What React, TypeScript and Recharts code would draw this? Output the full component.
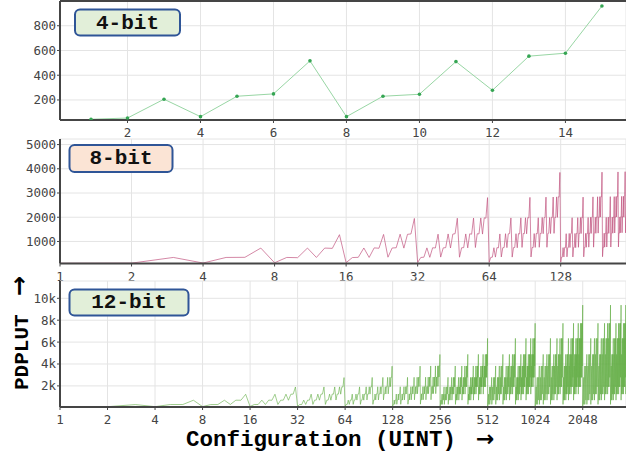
import { LineChart, Line, XAxis, YAxis, CartesianGrid, ReferenceLine } from "recharts";

const W = 626;
const AXIS = "#454545";
const GRID = "#e4e4e4";
const MONO = "'Liberation Mono', 'Courier New', monospace";
const TICK = { fontSize: 12.5, fill: "#444", fontFamily: "'DejaVu Sans Mono', monospace" };
const PAD = 8; // room above each plot for its top tick label

// 4-bit: configurations 1..15
const configs4 = [1, 2, 3, 4, 5, 6, 7, 8, 9, 10, 11, 12, 13, 14, 15];
const pdp4 = [44, 54, 206, 65, 230, 249, 516, 65, 230, 246, 510, 278, 554, 578, 959];

// 8-bit: configurations 1..255, one row per 16
const pdp8 = [
  100, 105, 340, 110, 340, 345, 727, 120, 340, 330, 727, 340, 727, 715, 1280,
  125, 335, 345, 730, 340, 735, 720, 1290, 350, 730, 740, 1300, 725, 1295, 1310, 1950,
  130, 340, 350, 735, 345, 740, 730, 1300, 355, 735, 745, 1310, 730, 1305, 1320, 1960,
  350, 740, 745, 1310, 735, 1315, 1300, 1965, 750, 1320, 1310, 1970, 1305, 1975, 1960, 2810,
  140, 345, 350, 740, 355, 745, 735, 1310, 360, 740, 750, 1320, 745, 1315, 1325, 1970,
  355, 745, 750, 1320, 740, 1325, 1310, 1975, 755, 1330, 1320, 1980, 1315, 1985, 1970, 2820,
  360, 750, 745, 1325, 755, 1330, 1320, 1980, 760, 1335, 1325, 1990, 1320, 1985, 1995, 2830,
  760, 1330, 1340, 1990, 1325, 1995, 1985, 2835, 1335, 2000, 1990, 2840, 1995, 2845, 2830, 3850,
  150, 350, 355, 745, 360, 750, 740, 1320, 365, 745, 755, 1330, 750, 1325, 1335, 1980,
  360, 750, 755, 1330, 745, 1335, 1320, 1985, 760, 1340, 1330, 1990, 1325, 1995, 1980, 2830,
  365, 755, 750, 1335, 760, 1340, 1330, 1990, 765, 1345, 1335, 2000, 1330, 1995, 2005, 2840,
  765, 1340, 1350, 2000, 1335, 2005, 1995, 2845, 1345, 2010, 2000, 2850, 2005, 2855, 2840, 3860,
  370, 760, 755, 1340, 765, 1345, 1335, 1995, 770, 1350, 1340, 2005, 1335, 2000, 2010, 2850,
  770, 1345, 1355, 2005, 1340, 2010, 2000, 2850, 1350, 2015, 2005, 2855, 2010, 2860, 2845, 3870,
  775, 1350, 1345, 2010, 1355, 2015, 2005, 2860, 1360, 2020, 2010, 2865, 2005, 2860, 2870, 3880,
  1355, 2020, 2030, 2870, 2015, 2875, 2865, 3885, 2025, 2880, 2870, 3890, 2875, 3895, 3880, 5000,
];

// 12-bit: every configuration 1..255
const pdp12Low = [
  95, 100, 295, 105, 300, 300, 690, 110, 295, 300, 690, 305, 695, 690, 1235,
  115, 300, 305, 695, 300, 700, 690, 1240, 305, 695, 700, 1245, 690, 1240, 1250, 1900,
  120, 305, 300, 700, 305, 695, 700, 1245, 310, 700, 705, 1250, 695, 1245, 1255, 1905,
  310, 700, 705, 1250, 695, 1255, 1245, 1905, 710, 1255, 1250, 1910, 1245, 1915, 1905, 2760,
  125, 305, 310, 700, 310, 705, 700, 1250, 315, 700, 710, 1255, 705, 1250, 1260, 1910,
  315, 705, 710, 1255, 700, 1260, 1250, 1915, 715, 1260, 1255, 1920, 1250, 1920, 1910, 2770,
  315, 710, 705, 1260, 715, 1265, 1255, 1920, 715, 1265, 1260, 1925, 1255, 1920, 1930, 2775,
  720, 1265, 1270, 1925, 1260, 1930, 1920, 2780, 1270, 1935, 1925, 2785, 1930, 2790, 2780, 3800,
  130, 310, 315, 705, 320, 710, 700, 1255, 320, 705, 715, 1260, 710, 1255, 1265, 1920,
  320, 710, 715, 1265, 705, 1270, 1255, 1925, 720, 1270, 1265, 1930, 1260, 1935, 1920, 2780,
  325, 715, 710, 1270, 720, 1275, 1265, 1930, 725, 1275, 1270, 1935, 1265, 1930, 1940, 2785,
  725, 1275, 1280, 1935, 1270, 1940, 1930, 2790, 1280, 1945, 1935, 2795, 1940, 2800, 2790, 3810,
  330, 720, 715, 1275, 725, 1280, 1270, 1935, 730, 1280, 1275, 1940, 1270, 1940, 1945, 2795,
  730, 1280, 1285, 1940, 1275, 1945, 1935, 2800, 1285, 1950, 1940, 2805, 1945, 2810, 2795, 3820,
  735, 1285, 1280, 1945, 1290, 1950, 1940, 2805, 1290, 1955, 1945, 2810, 1940, 2805, 2815, 3825,
  1290, 1955, 1960, 2815, 1950, 2820, 2810, 3830, 1960, 2825, 2815, 3835, 2820, 3840, 3830, 4870,
];

// 12-bit, higher octaves: 128 configurations each (see octaveConfigs)
const pdp12Oct256 = [
  120, 700, 310, 1250, 310, 1250, 700, 1910, 310, 1250, 700, 1910, 700, 1910, 1250, 2780,
  310, 1250, 700, 1910, 700, 1910, 1250, 2780, 700, 1910, 1250, 2780, 1250, 2780, 1910, 3820,
  310, 1250, 700, 1910, 700, 1910, 1250, 2780, 700, 1910, 1250, 2780, 1250, 2780, 1910, 3820,
  700, 1910, 1250, 2780, 1250, 2780, 1910, 3820, 1250, 2780, 1910, 3820, 1910, 3820, 2780, 4880,
  310, 1250, 700, 1910, 700, 1910, 1250, 2780, 700, 1910, 1250, 2780, 1250, 2780, 1910, 3820,
  700, 1910, 1250, 2780, 1250, 2780, 1910, 3820, 1250, 2780, 1910, 3820, 1910, 3820, 2780, 4880,
  700, 1910, 1250, 2780, 1250, 2780, 1910, 3820, 1250, 2780, 1910, 3820, 1910, 3820, 2780, 4880,
  1250, 2780, 1910, 3820, 1910, 3820, 2780, 4880, 1910, 3820, 2780, 4880, 2780, 4880, 3820, 6340,
];
const pdp12Oct512 = [
  120, 1250, 310, 1910, 310, 1910, 700, 2780, 310, 1910, 700, 2780, 700, 2780, 1250, 3820,
  310, 1910, 700, 2780, 700, 2780, 1250, 3820, 700, 2780, 1250, 3820, 1250, 3820, 1910, 4880,
  310, 1910, 700, 2780, 700, 2780, 1250, 3820, 700, 2780, 1250, 3820, 1250, 3820, 1910, 4880,
  700, 2780, 1250, 3820, 1250, 3820, 1910, 4880, 1250, 3820, 1910, 4880, 1910, 4880, 2780, 6340,
  310, 1910, 700, 2780, 700, 2780, 1250, 3820, 700, 2780, 1250, 3820, 1250, 3820, 1910, 4880,
  700, 2780, 1250, 3820, 1250, 3820, 1910, 4880, 1250, 3820, 1910, 4880, 1910, 4880, 2780, 6340,
  700, 2780, 1250, 3820, 1250, 3820, 1910, 4880, 1250, 3820, 1910, 4880, 1910, 4880, 2780, 6340,
  1250, 3820, 1910, 4880, 1910, 4880, 2780, 6340, 1910, 4880, 2780, 6340, 2780, 6340, 3820, 7720,
];
const pdp12Oct1024 = [
  120, 1910, 310, 2780, 310, 2780, 700, 3820, 310, 2780, 700, 3820, 700, 3820, 1250, 4880,
  310, 2780, 700, 3820, 700, 3820, 1250, 4880, 700, 3820, 1250, 4880, 1250, 4880, 1910, 6340,
  310, 2780, 700, 3820, 700, 3820, 1250, 4880, 700, 3820, 1250, 4880, 1250, 4880, 1910, 6340,
  700, 3820, 1250, 4880, 1250, 4880, 1910, 6340, 1250, 4880, 1910, 6340, 1910, 6340, 2780, 7720,
  310, 2780, 700, 3820, 700, 3820, 1250, 4880, 700, 3820, 1250, 4880, 1250, 4880, 1910, 6340,
  700, 3820, 1250, 4880, 1250, 4880, 1910, 6340, 1250, 4880, 1910, 6340, 1910, 6340, 2780, 7720,
  700, 3820, 1250, 4880, 1250, 4880, 1910, 6340, 1250, 4880, 1910, 6340, 1910, 6340, 2780, 7720,
  1250, 4880, 1910, 6340, 1910, 6340, 2780, 7720, 1910, 6340, 2780, 7720, 2780, 7720, 3820, 9380,
];
const pdp12Oct2048 = [
  120, 2780, 310, 3820, 310, 3820, 700, 4880, 310, 3820, 700, 4880, 700, 4880, 1250, 6340,
  310, 3820, 700, 4880, 700, 4880, 1250, 6340, 700, 4880, 1250, 6340, 1250, 6340, 1910, 7720,
  310, 3820, 700, 4880, 700, 4880, 1250, 6340, 700, 4880, 1250, 6340, 1250, 6340, 1910, 7720,
  700, 4880, 1250, 6340, 1250, 6340, 1910, 7720, 1250, 6340, 1910, 7720, 1910, 7720, 2780, 9380,
  310, 3820, 700, 4880, 700, 4880, 1250, 6340, 700, 4880, 1250, 6340, 1250, 6340, 1910, 7720,
  700, 4880, 1250, 6340, 1250, 6340, 1910, 7720, 1250, 6340, 1910, 7720, 1910, 7720, 2780, 9380,
  700, 4880, 1250, 6340, 1250, 6340, 1910, 7720, 1250, 6340, 1910, 7720, 1910, 7720, 2780, 9380,
  1250, 6340, 1910, 7720, 1910, 7720, 2780, 9380, 1910, 7720, 2780, 9380, 2780, 9380, 3820, 11000,
];

const xTicks4 = [2, 4, 6, 8, 10, 12, 14];
const yTicks4 = [200, 400, 600, 800];
const xTicks8 = [1, 2, 4, 8, 16, 32, 64, 128];
const yTicks8 = [1000, 2000, 3000, 4000, 5000];
const xTicks12 = [1, 2, 4, 8, 16, 32, 64, 128, 256, 512, 1024, 2048];
const yTicks12 = [2000, 4000, 6000, 8000, 10000];

// configurations of one sampled octave: alternate the low end and high end of each stride
function octaveConfigs(start: number) {
  const stride = start / 128;
  return Array.from({ length: 128 }, (_, j) => start + stride * j + (j % 2 ? stride - 1 : 0));
}

const data4 = pdp4.map((v, i) => ({ cfg: configs4[i], pdp: v }));
const data8 = pdp8.map((v, i) => ({ cfg: i + 1, pdp: v }));
const data12 = [
  ...pdp12Low.map((v, i) => ({ cfg: i + 1, pdp: v })),
  ...([
    [256, pdp12Oct256],
    [512, pdp12Oct512],
    [1024, pdp12Oct1024],
    [2048, pdp12Oct2048],
  ] as [number, number[]][]).flatMap(([start, vals]) => {
    const cfgs = octaveConfigs(start);
    return vals.map((v, j) => ({ cfg: cfgs[j], pdp: v }));
  }),
];

const fmtK = (v: number) => `${v / 1000}k`;

interface PanelProps {
  top: number;
  plotHeight: number;
  data: { cfg: number; pdp: number }[];
  xDomain: [number, number];
  xTicks: number[];
  log?: boolean;
  yDomain: [number, number];
  yTicks: number[];
  yFormat?: (v: number) => string;
  stroke: string;
  strokeOpacity: number;
  dot?: any;
  labelGap: number;
  topLine?: number;
}

function Panel(p: PanelProps) {
  return (
    <div style={{ position: "absolute", left: 0, top: p.top - PAD }}>
      <LineChart
        width={W}
        height={p.plotHeight + 26 + PAD}
        data={p.data}
        margin={{ top: PAD, right: 0, bottom: 0, left: 0 }}
      >
        <CartesianGrid stroke={GRID} strokeWidth={1} />
        <XAxis
          dataKey="cfg"
          type="number"
          scale={p.log ? "log" : "linear"}
          domain={p.xDomain}
          ticks={p.xTicks}
          interval={0}
          allowDataOverflow
          height={26}
          tick={TICK}
          tickSize={3}
          tickMargin={p.labelGap}
          axisLine={{ stroke: AXIS, strokeWidth: 2 }}
          tickLine={{ stroke: AXIS }}
        />
        <YAxis
          type="number"
          domain={p.yDomain}
          ticks={p.yTicks}
          interval={0}
          allowDataOverflow
          width={60}
          tick={TICK}
          tickSize={3}
          tickMargin={1}
          tickFormatter={p.yFormat}
          axisLine={{ stroke: AXIS, strokeWidth: 2 }}
          tickLine={{ stroke: AXIS }}
        />
        {p.topLine !== undefined && (
          <ReferenceLine y={p.topLine} stroke={AXIS} strokeWidth={2} ifOverflow="extendDomain" />
        )}
        <Line
          type="linear"
          dataKey="pdp"
          stroke={p.stroke}
          strokeOpacity={p.strokeOpacity}
          strokeWidth={1}
          dot={p.dot ?? false}
          activeDot={false}
          isAnimationActive={false}
        />
      </LineChart>
    </div>
  );
}

function Tag({ x, y, w, h, fill, text, cx, base }: any) {
  return (
    <g>
      <rect x={x} y={y} width={w} height={h} rx={5} fill={fill} stroke="#2f5597" strokeWidth={2} />
      <text x={cx} y={base} textAnchor="middle" fontFamily={MONO} fontWeight="bold" fontSize={21} fill="#111">
        {text}
      </text>
    </g>
  );
}

export default function App() {
  return (
    <div
      style={{
        position: "absolute",
        left: 0,
        top: 0,
        width: W,
        height: 454,
        background: "#fff",
        overflow: "hidden",
      }}
    >
      <Panel
        top={1}
        plotHeight={119}
        data={data4}
        xDomain={[0.15, 15.66]}
        xTicks={xTicks4}
        yDomain={[38, 1000]}
        yTicks={yTicks4}
        stroke="#98d6a4"
        strokeOpacity={1}
        dot={{ r: 1.8, fill: "#35a553", stroke: "none" }}
        labelGap={5}
        topLine={1000}
      />
      <Panel
        top={138.5}
        plotHeight={124.5}
        data={data8}
        xDomain={[1, 241]}
        xTicks={xTicks8}
        log
        yDomain={[90, 5230]}
        yTicks={yTicks8}
        stroke="#c25680"
        strokeOpacity={0.7}
        labelGap={6}
      />
      <Panel
        top={281}
        plotHeight={126}
        data={data12}
        xDomain={[1, 3850]}
        xTicks={xTicks12}
        log
        yDomain={[73, 11580]}
        yTicks={yTicks12}
        yFormat={fmtK}
        stroke="#62ad45"
        strokeOpacity={0.6}
        labelGap={5.5}
      />
      <svg
        width={W}
        height={454}
        style={{ position: "absolute", left: 0, top: 0, pointerEvents: "none" }}
      >
        <Tag x={75} y={9.5} w={105} h={26} fill="#e2efd9" text="4-bit" cx={127.5} base={28.5} />
        <Tag x={69.5} y={145} w={103} h={27} fill="#fbe4d5" text="8-bit" cx={121} base={164.3} />
        <Tag x={69.5} y={289.5} w={119} h={26} fill="#e2efd9" text="12-bit" cx={129} base={308.3} />
        <text
          transform="translate(27.5 390) rotate(-90)"
          fontFamily={MONO}
          fontWeight="bold"
          fontSize={21}
          fill="#000"
        >
          PDPLUT
        </text>
        <text
          transform="translate(27 296) rotate(-90)"
          fontFamily="'DejaVu Sans', sans-serif"
          fontWeight="bold"
          fontSize={24}
          fill="#000"
        >
          →
        </text>
        <text x={186} y={445.5} fontFamily={MONO} fontWeight="bold" fontSize={22.5} fill="#000">
          Configuration (UINT)
          <tspan dx={20} dy={0.5} fontFamily="'DejaVu Sans', sans-serif" fontSize={22}>
            →
          </tspan>
        </text>
      </svg>
    </div>
  );
}
